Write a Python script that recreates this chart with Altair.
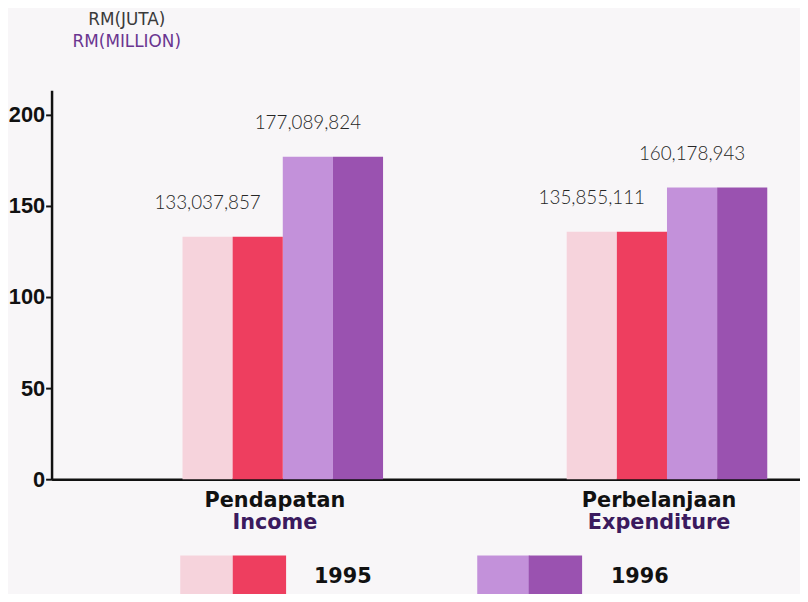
import altair as alt
import pandas as pd

# ---- data ----
categories_ms = ["Pendapatan", "Perbelanjaan"]
categories_en = ["Income", "Expenditure"]
years = ["1995", "1996"]
values_1995 = [133037857, 135855111]
values_1996 = [177089824, 160178943]
y_ticks = [0, 50, 100, 150, 200]

faces = ["1995 front", "1995 side", "1996 front", "1996 side"]
front_colors = ["#f6d3dc", "#c391da"]
side_colors = ["#ee3e5f", "#9a52b0"]

rows = []
for i in range(len(categories_ms)):
    for yr, vals in zip(years, [values_1995, values_1996]):
        rows.append({
            "ms": categories_ms[i],
            "en": categories_en[i],
            "year": yr,
            "millions": vals[i] / 1e6,
            "label": f"{vals[i]:,}",
            "front": yr + " front",
            "side": yr + " side",
        })
df = pd.DataFrame(rows)

band = dict(paddingInner=0.478, paddingOuter=0.213, align=0.8)

y_enc = alt.Y(
    "millions:Q",
    scale=alt.Scale(domain=[0, 213.6], nice=False, zero=True),
    axis=alt.Axis(
        values=y_ticks, title=None, grid=False,
        domainColor="#111111", domainWidth=2.5,
        tickColor="#111111", tickWidth=2, tickSize=6,
        labelFont="Liberation Sans", labelFontWeight="bold", labelFontSize=22,
        labelColor="#111111", labelPadding=1,
    ),
)

off_scale = alt.Scale(domain=faces, paddingInner=0, paddingOuter=0)

base = alt.Chart(df)

front = base.mark_bar(strokeWidth=0).encode(
    x=alt.X("ms:N", sort=categories_ms, scale=alt.Scale(**band),
            axis=alt.Axis(title=None, ticks=False, labelAngle=0,
                          domainColor="#111111", domainWidth=2.5,
                          labelFont="DejaVu Sans", labelFontWeight="bold",
                          labelFontSize=21, labelColor="#111111",
                          labelPadding=11, labelOffset=-8)),
    xOffset=alt.XOffset("front:N", scale=off_scale),
    y=y_enc,
    fill=alt.Fill("year:N", scale=alt.Scale(domain=years, range=front_colors),
                  legend=alt.Legend(
                      title=None, orient="none", direction="horizontal",
                      legendX=161, legendY=470,
                      symbolType="M-2.41,-1H0V1H-2.41Z", symbolSize=1936,
                      symbolStrokeWidth=0, symbolOpacity=1,
                      labelFont="DejaVu Sans", labelFontWeight="bold",
                      labelFontSize=21, labelColor="#111111",
                      labelOffset=60, columnPadding=105, padding=0,
                  )),
)

side = base.mark_bar(strokeWidth=0).encode(
    x=alt.X("ms:N", sort=categories_ms, scale=alt.Scale(**band), axis=None),
    xOffset=alt.XOffset("side:N", scale=off_scale),
    y=y_enc,
    fill=alt.Fill("year:N", scale=alt.Scale(domain=years, range=side_colors),
                  legend=alt.Legend(
                      title=None, orient="none", direction="horizontal",
                      legendX=161, legendY=470,
                      symbolType="M0,-1H2.45V1H0Z", symbolSize=1936,
                      symbolStrokeWidth=0, symbolOpacity=1,
                      labelExpr="''",
                      labelFont="DejaVu Sans", labelFontWeight="bold",
                      labelFontSize=21, labelColor="#111111",
                      labelOffset=60, columnPadding=195, padding=0,
                  )),
)

labels = base.mark_text(
    font="Lato", fontSize=19, fontWeight=300, color="#262626",
    baseline="bottom", dy=-24,
).encode(
    x=alt.X("en:N", sort=categories_en, scale=alt.Scale(**band),
            axis=alt.Axis(title=None, orient="bottom", ticks=False, domain=False,
                          labelAngle=0, labelFont="DejaVu Sans",
                          labelFontWeight="bold", labelFontSize=21,
                          labelColor="#3b1a5e", labelPadding=33, labelOffset=-8)),
    xOffset=alt.XOffset("front:N", scale=off_scale),
    y=y_enc,
    text="label:N",
)

chart = alt.layer(front, side, labels).resolve_scale(
    fill="independent", x="independent"
).properties(
    width=756,
    height=393,
    autosize="none",
    padding={"left": 44, "top": 80, "right": 0, "bottom": 113},
    background="#f8f6f8",
    title=alt.TitleParams(
        text="RM(JUTA)", subtitle="RM(MILLION)",
        anchor="start", frame="group", align="center", dx=76, offset=40,
        font="DejaVu Sans", fontSize=17, fontWeight="normal", color="#3a3a3a",
        subtitleFont="DejaVu Sans", subtitleFontSize=17, subtitleColor="#6a3590",
        subtitlePadding=5,
    ),
).configure_view(stroke=None)

chart.save("out.html", embed_options={"renderer": "svg", "actions": False})
